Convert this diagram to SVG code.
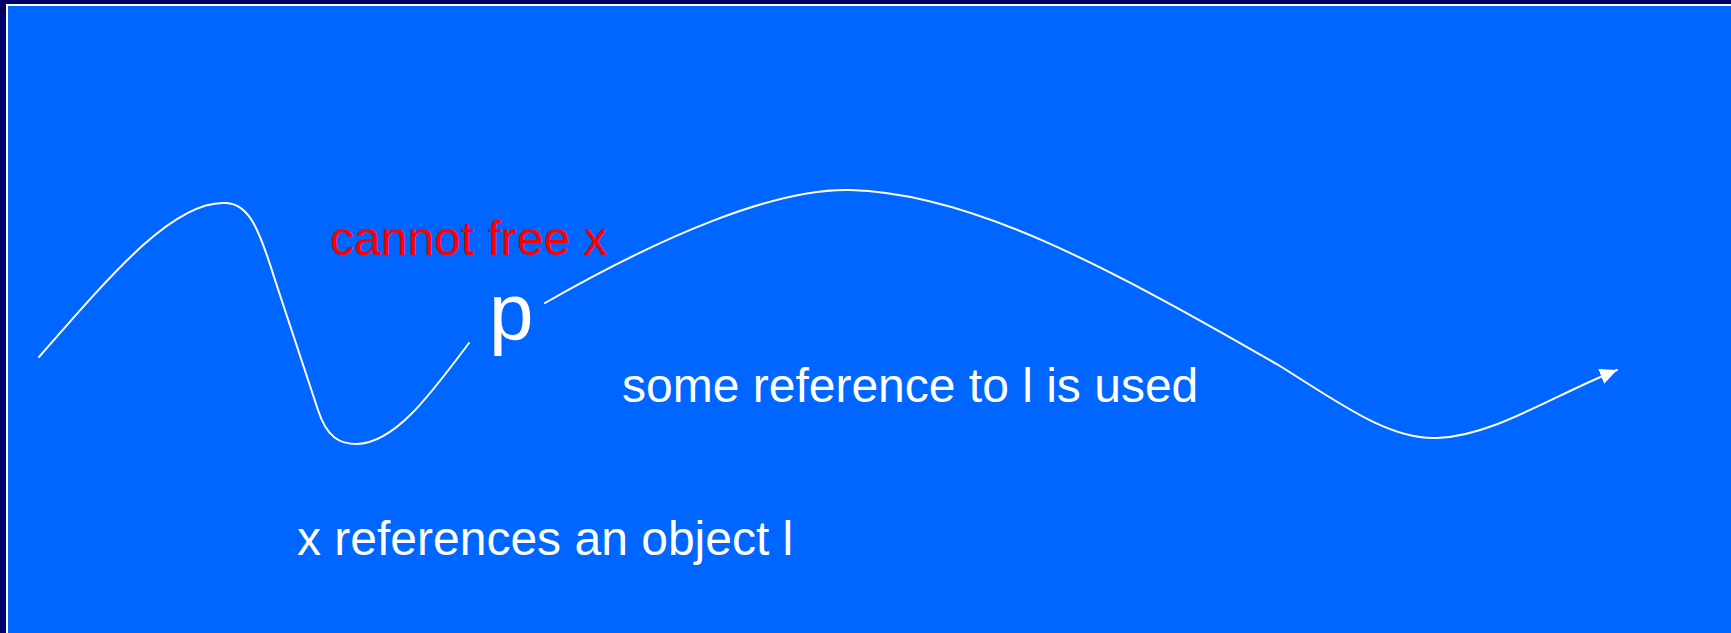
<svg xmlns="http://www.w3.org/2000/svg" width="1731" height="633" viewBox="0 0 1731 633">
  <style>
    .lbl { font-family: "Liberation Sans", Arial, sans-serif; font-size: 48px; fill: #FFFFFF; }
    .red { fill: #FF0000; }
    .big { font-size: 80px; }
    .curve { fill: none; stroke: #FFFFFF; stroke-width: 2; stroke-linecap: round; stroke-linejoin: round; }
  </style>
  <defs>
    <marker id="arrow" markerUnits="userSpaceOnUse" markerWidth="18" markerHeight="16" refX="17" refY="8" orient="auto">
      <path d="M0,0 L17,8 L0,16 Z" fill="#FFFFFF"/>
    </marker>
  </defs>
  <g id="background">
    <rect x="0" y="0" width="1731" height="633" fill="#000066"/>
    <rect x="6" y="4" width="1725" height="629" fill="#FFFFFF"/>
    <rect x="8" y="6" width="1723" height="627" fill="#0066FF"/>
  </g>
  <g id="connectors">
    <path class="curve" d="M39,357 C115,270 175,200 226,203 C248,204 258,225 275,280 L318,410 C327,438 340,444 357,444 C395,443 430,395 469,343"/>
    <path class="curve" marker-end="url(#arrow)" d="M545,303 C662,236 775,188 850,190 C968,193 1100,262 1280,366 C1342,405 1390,440 1437,438 C1493,436 1552,396 1617,370"/>
  </g>
  <g id="label-cannot-free">
    <text class="lbl red" x="330" y="255">cannot free x</text>
  </g>
  <g id="label-p">
    <text class="lbl big" x="489" y="339">p</text>
  </g>
  <g id="label-some-reference">
    <text class="lbl" x="622" y="402">some reference to l is used</text>
  </g>
  <g id="label-x-references">
    <text class="lbl" x="297" y="555">x references an object l</text>
  </g>
</svg>
